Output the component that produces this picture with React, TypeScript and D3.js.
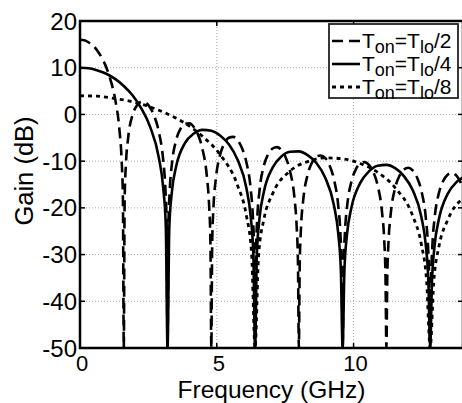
import React from "react";
import * as d3 from "d3";

// gain curves: [frequency GHz, gain dB], nulls drop to the -50 floor
const halfPeriod: [number, number][] = [
  [0, 16.0], [0.16, 15.9], [0.32, 15.4], [0.48, 14.7], [0.64, 13.6], [0.8, 12.1], [0.96, 10.1],
  [1.12, 7.3], [1.28, 3.4], [1.44, -3.2], [1.52, -9.6], [1.568, -17.8], [1.6, -50],
  [1.632, -18.2], [1.68, -10.5], [1.76, -5.0], [1.92, -0.1], [2.08, 1.9], [2.24, 2.7], [2.4, 2.5],
  [2.56, 1.5], [2.72, -0.4], [2.88, -3.7], [3.04, -9.7], [3.12, -15.9], [3.168, -23.9], [3.2, -50],
  [3.232, -24.1], [3.28, -16.3], [3.36, -10.6], [3.52, -5.4], [3.68, -3.0], [3.84, -2.0], [4.0, -1.9],
  [4.16, -2.7], [4.32, -4.4], [4.48, -7.5], [4.64, -13.4], [4.72, -19.5], [4.768, -27.5], [4.8, -50],
  [4.832, -27.6], [4.88, -19.7], [4.96, -14.0], [5.12, -8.7], [5.28, -6.2], [5.44, -5.0], [5.6, -4.8],
  [5.76, -5.5], [5.92, -7.2], [6.08, -10.2], [6.24, -16.0], [6.32, -22.0], [6.368, -30.0], [6.4, -50],
  [6.432, -30.1], [6.48, -22.2], [6.56, -16.4], [6.72, -11.0], [6.88, -8.5], [7.04, -7.3], [7.2, -7.0],
  [7.36, -7.6], [7.52, -9.2], [7.68, -12.2], [7.84, -17.9], [7.92, -24.0], [7.968, -31.9], [8.0, -50],
  [8.032, -32.0], [8.08, -24.1], [8.16, -18.3], [8.32, -12.9], [8.48, -10.3], [8.64, -9.0], [8.8, -8.8],
  [8.96, -9.3], [9.12, -10.9], [9.28, -13.8], [9.44, -19.6], [9.52, -25.6], [9.568, -33.5], [9.6, -50],
  [9.632, -33.6], [9.68, -25.7], [9.76, -19.9], [9.92, -14.4], [10.08, -11.8], [10.24, -10.5], [10.4, -10.2],
  [10.56, -10.8], [10.72, -12.3], [10.88, -15.2], [11.04, -20.9], [11.12, -26.9], [11.168, -34.9], [11.2, -50],
  [11.232, -34.9], [11.28, -27.0], [11.36, -21.2], [11.52, -15.7], [11.68, -13.1], [11.84, -11.8], [12.0, -11.4],
  [12.16, -12.0], [12.32, -13.5], [12.48, -16.4], [12.64, -22.1], [12.72, -28.1], [12.768, -36.0], [12.8, -50],
  [12.832, -36.1], [12.88, -28.2], [12.96, -22.3], [13.12, -16.8], [13.28, -14.2], [13.44, -12.9], [13.6, -12.5],
  [13.76, -13.1], [13.92, -14.6], [14.0, -15.8],
];

const quarterPeriod: [number, number][] = [
  [0, 10.0], [0.32, 9.9], [0.64, 9.4], [0.96, 8.7], [1.28, 7.6], [1.6, 6.1], [1.92, 4.1],
  [2.24, 1.3], [2.56, -2.6], [2.88, -9.2], [3.04, -15.6], [3.136, -23.8], [3.2, -50],
  [3.264, -24.2], [3.36, -16.5], [3.52, -11.0], [3.84, -6.1], [4.16, -4.1], [4.48, -3.3], [4.8, -3.5],
  [5.12, -4.5], [5.44, -6.4], [5.76, -9.7], [6.08, -15.7], [6.24, -21.9], [6.336, -29.9], [6.4, -50],
  [6.464, -30.1], [6.56, -22.3], [6.72, -16.6], [7.04, -11.4], [7.36, -9.0], [7.68, -8.0], [8.0, -7.9],
  [8.32, -8.7], [8.64, -10.4], [8.96, -13.5], [9.28, -19.4], [9.44, -25.5], [9.536, -33.5], [9.6, -50],
  [9.664, -33.6], [9.76, -25.7], [9.92, -20.0], [10.24, -14.7], [10.56, -12.2], [10.88, -11.0], [11.2, -10.8],
  [11.52, -11.5], [11.84, -13.2], [12.16, -16.2], [12.48, -22.0], [12.64, -28.0], [12.736, -36.0], [12.8, -50],
  [12.864, -36.1], [12.96, -28.2], [13.12, -22.4], [13.44, -17.0], [13.76, -14.5], [14.0, -13.5],
];

const eighthPeriod: [number, number][] = [
  [0, 4.0], [0.64, 3.9], [1.28, 3.4], [1.92, 2.7], [2.56, 1.6], [3.2, 0.1], [3.84, -1.9],
  [4.48, -4.7], [5.12, -8.6], [5.76, -15.2], [6.08, -21.6], [6.272, -29.8], [6.4, -50],
  [6.528, -30.2], [6.72, -22.5], [7.04, -17.0], [7.68, -12.1], [8.32, -10.1], [8.96, -9.3], [9.6, -9.5],
  [10.24, -10.5], [10.88, -12.4], [11.52, -15.7], [12.16, -21.7], [12.48, -27.9], [12.672, -35.9], [12.8, -50],
  [12.928, -36.1], [13.12, -28.3], [13.44, -22.6], [14.0, -17.9],
];

const xTicks = [0, 5, 10];
const yTicks = [20, 10, 0, -10, -20, -30, -40, -50];
const legendDivisors = ["2", "4", "8"];

const W = 462;
const H = 403;
const left = 80;
const right = 463;
const top = 21;
const bottom = 348;
const font = "'Liberation Sans', Arial, Helvetica, sans-serif";

export default function App() {
  const x = d3.scaleLinear().domain([0, 14]).range([left, right]);
  const y = d3.scaleLinear().domain([-50, 20]).range([bottom, top]);

  const line = d3
    .line<[number, number]>()
    .x((d) => x(d[0]))
    .y((d) => y(d[1]))
    .curve(d3.curveMonotoneX);

  const series = [
    { data: halfPeriod, dash: "11,6", width: 2.6 },
    { data: quarterPeriod, dash: "none", width: 2.6 },
    { data: eighthPeriod, dash: "4,4", width: 2.8 },
  ];

  // legend rows
  const legX = 329;
  const legY = 24;
  const rowY = [41, 64, 87];

  return (
    <div style={{ position: "fixed", left: 0, top: 0 }}>
      <svg width={W} height={H} style={{ display: "block", background: "#fff" }}>
        <defs>
          <clipPath id="plotArea">
            <rect x={left} y={top} width={right - left} height={bottom - top} />
          </clipPath>
        </defs>

        {/* grid */}
        {yTicks.map((t) => (
          <line key={"gy" + t} x1={left} x2={right} y1={y(t)} y2={y(t)}
            stroke="#a8a8a8" strokeWidth={1} strokeDasharray="1,2" />
        ))}
        {xTicks.slice(1).map((t) => (
          <line key={"gx" + t} x1={x(t)} x2={x(t)} y1={top} y2={bottom}
            stroke="#a8a8a8" strokeWidth={1} strokeDasharray="1,2" />
        ))}

        {/* curves */}
        <g clipPath="url(#plotArea)">
          {series.map((s, i) => (
            <path key={i} d={line(s.data) || ""} fill="none" stroke="#000"
              strokeWidth={s.width} strokeDasharray={s.dash} strokeLinejoin="round" />
          ))}
        </g>

        {/* ticks */}
        {yTicks.map((t) => (
          <g key={"ty" + t}>
            <line x1={left} x2={left + 5} y1={y(t)} y2={y(t)} stroke="#000" strokeWidth={1.5} />
            <line x1={right - 5} x2={right} y1={y(t)} y2={y(t)} stroke="#000" strokeWidth={1.5} />
            <text x={left - 3} y={y(t)} dy="0.36em" textAnchor="end"
              fontFamily={font} fontSize={24} fill="#000">{t}</text>
          </g>
        ))}
        {xTicks.map((t) => (
          <g key={"tx" + t}>
            <line x1={x(t)} x2={x(t)} y1={bottom} y2={bottom - 5} stroke="#000" strokeWidth={1.5} />
            <line x1={x(t)} x2={x(t)} y1={top} y2={top + 5} stroke="#000" strokeWidth={1.5} />
            <text x={x(t) + 2} y={371} textAnchor="middle"
              fontFamily={font} fontSize={22} fill="#000">{t}</text>
          </g>
        ))}

        {/* frame */}
        <rect x={left} y={top} width={right - left} height={bottom - top}
          fill="none" stroke="#000" strokeWidth={2.5} />

        {/* axis titles */}
        <text x={(left + right) / 2} y={398} textAnchor="middle"
          fontFamily={font} fontSize={24.5} fill="#000">Frequency (GHz)</text>
        <text transform="translate(33,171) rotate(-90)" textAnchor="middle"
          fontFamily={font} fontSize={25.5} fill="#000">Gain (dB)</text>

        {/* legend */}
        <rect x={legX} y={legY} width={129} height={74} fill="#fff" stroke="#222" strokeWidth={1.8} />
        {series.map((s, i) => (
          <g key={"leg" + i}>
            <line x1={332} x2={360} y1={rowY[i]} y2={rowY[i]} stroke="#000"
              strokeWidth={s.width} strokeDasharray={s.dash} />
            <text x={362} y={rowY[i] + 7} fontFamily={font} fontSize={21} fill="#000">
              T<tspan dy={5} fontSize={18}>on</tspan>
              <tspan dy={-5}>=T</tspan>
              <tspan dy={5} fontSize={18}>lo</tspan>
              <tspan dy={-5}>/{legendDivisors[i]}</tspan>
            </text>
          </g>
        ))}
      </svg>
    </div>
  );
}
